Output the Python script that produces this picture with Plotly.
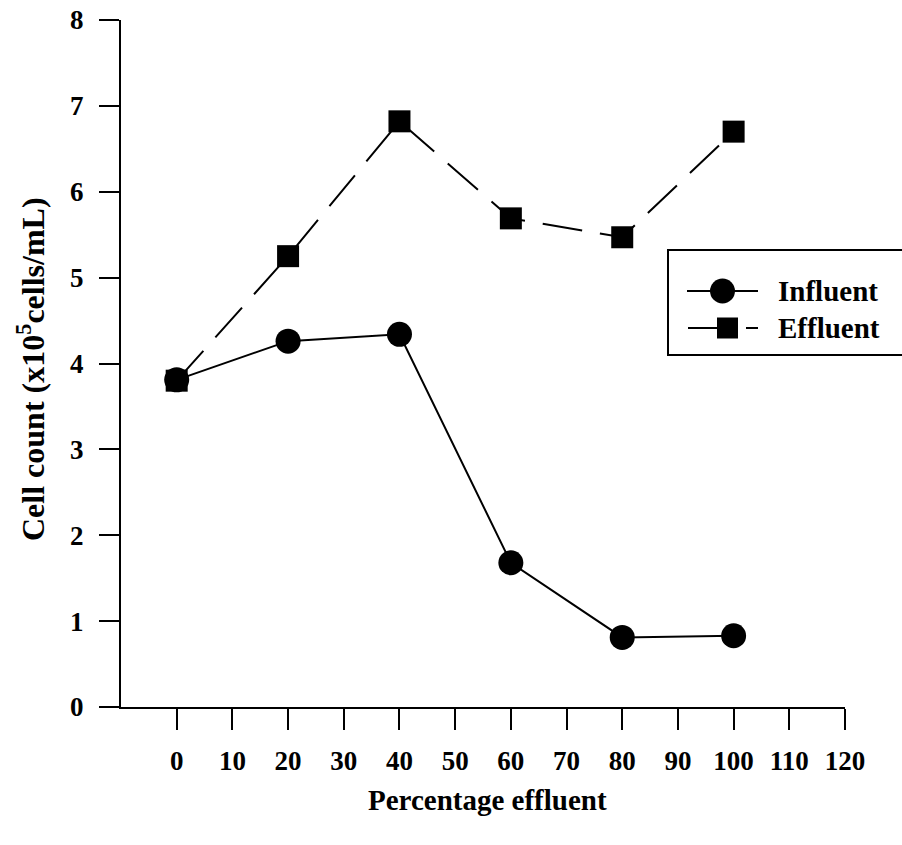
import plotly.graph_objects as go

x_pct = [0, 20, 40, 60, 80, 100]
influent = [3.81, 4.26, 4.34, 1.68, 0.81, 0.83]
effluent = [3.80, 5.25, 6.82, 5.69, 5.47, 6.70]
x_ticks = [0, 10, 20, 30, 40, 50, 60, 70, 80, 90, 100, 110, 120]
y_ticks = [0, 1, 2, 3, 4, 5, 6, 7, 8]

W, H = 902, 845
L, R, T, B = 121, 57, 20, 138
PW, PH = W - L - R, H - T - B
FONT = "Liberation Serif"

def px(xp):
    return (xp - L) / PW

def py(yp):
    return (H - B - yp) / PH

fig = go.Figure()
fig.add_trace(go.Scatter(x=x_pct, y=influent, name="Influent", mode="lines+markers",
                         line=dict(color="black", width=2),
                         marker=dict(symbol="circle", size=25, color="black"),
                         showlegend=False))
fig.add_trace(go.Scatter(x=x_pct, y=effluent, name="Effluent", mode="lines+markers",
                         line=dict(color="black", width=2, dash="40px,18px"),
                         marker=dict(symbol="square", size=22, color="black"),
                         showlegend=False))

tick_font = dict(family=FONT, size=27, color="black", weight="bold")
title_font = dict(family=FONT, size=29, color="black", weight="bold")
ytitle_font = dict(family=FONT, size=32, color="black", weight="bold")
fig.update_xaxes(range=[-10, 120], tickvals=x_ticks, ticktext=[str(v) for v in x_ticks],
                 showline=True, linecolor="black", linewidth=2, ticks="outside",
                 ticklen=21, tickwidth=2, tickcolor="black", showgrid=False,
                 zeroline=False, tickfont=tick_font, ticklabelstandoff=8,
                 automargin=False)
fig.update_yaxes(range=[0, 8], tickvals=y_ticks, showline=True, linecolor="black",
                 linewidth=2, ticks="outside", ticklen=20, tickwidth=2,
                 tickcolor="black", showgrid=False, zeroline=False,
                 tickfont=tick_font, ticklabelstandoff=10, automargin=False)

shapes = []
annotations = []
# Legend box
shapes.append(dict(type="rect", xref="paper", yref="paper", x0=px(668), x1=px(905),
                   y0=py(355), y1=py(250), line=dict(color="black", width=2),
                   fillcolor="white", layer="above"))
# Influent legend row
ry = 291
shapes.append(dict(type="line", xref="paper", yref="paper", x0=px(687), x1=px(758),
                   y0=py(ry), y1=py(ry), line=dict(color="black", width=2)))
shapes.append(dict(type="circle", xref="paper", yref="paper", x0=px(710), x1=px(735),
                   y0=py(ry + 12.5), y1=py(ry - 12.5), fillcolor="black",
                   line=dict(color="black", width=0)))
annotations.append(dict(text="Influent", xref="paper", yref="paper", x=px(776), y=py(ry),
                        xanchor="left", yanchor="middle", showarrow=False,
                        font=title_font))
# Effluent legend row
ry2 = 328
shapes.append(dict(type="line", xref="paper", yref="paper", x0=px(688), x1=px(722),
                   y0=py(ry2), y1=py(ry2), line=dict(color="black", width=2)))
shapes.append(dict(type="line", xref="paper", yref="paper", x0=px(746), x1=px(758),
                   y0=py(ry2), y1=py(ry2), line=dict(color="black", width=2)))
shapes.append(dict(type="rect", xref="paper", yref="paper", x0=px(717), x1=px(738),
                   y0=py(ry2 + 10.5), y1=py(ry2 - 10.5), fillcolor="black",
                   line=dict(color="black", width=0)))
annotations.append(dict(text="Effluent", xref="paper", yref="paper", x=px(776), y=py(ry2),
                        xanchor="left", yanchor="middle", showarrow=False,
                        font=title_font))
# Axis titles
annotations.append(dict(text="Percentage effluent", xref="paper", yref="paper",
                        x=px(487), y=py(800), xanchor="center", yanchor="middle",
                        showarrow=False, font=title_font))
annotations.append(dict(text="Cell count (x10<sup>5</sup>cells/mL)", xref="paper", yref="paper",
                        x=px(31), y=py(369), xanchor="center", yanchor="middle",
                        textangle=-90, showarrow=False, font=ytitle_font))

fig.update_layout(width=W, height=H, margin=dict(l=L, r=R, t=T, b=B, autoexpand=False),
                  paper_bgcolor="white", plot_bgcolor="white",
                  shapes=shapes, annotations=annotations, showlegend=False)
fig.write_html("out.html", config={"displayModeBar": False},
               post_script="document.body.style.margin='0px';document.body.style.overflow='hidden';")
